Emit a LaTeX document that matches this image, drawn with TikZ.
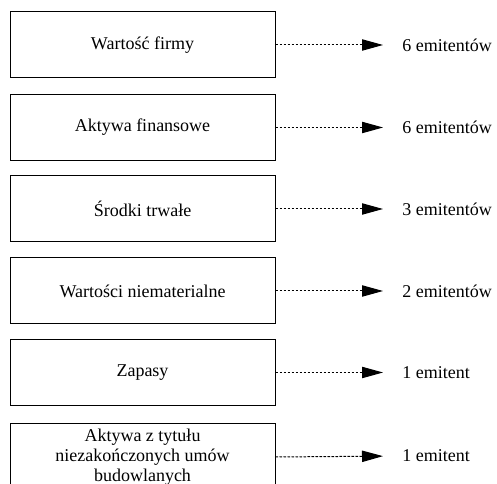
\documentclass[tikz,border=0pt]{standalone}
\usepackage{fontspec}
\setmainfont{Liberation Serif}
\usetikzlibrary{arrows.meta}

\tikzset{
  itembox/.style={draw, line width=0.75pt, minimum width=198.75pt, minimum height=49.5pt,
    align=center, font=\fontsize{13.5}{15}\selectfont},
  count/.style={anchor=west, inner sep=0pt, font=\fontsize{13.5}{16.5}\selectfont},
  link/.style={line width=0.75pt, dash pattern=on 1.9pt off 1.1pt,
    -{Triangle[length=15.75pt,width=8.5pt]}, shorten >=14.25pt}
}

\begin{document}
\begin{tikzpicture}[x=0.75pt,y=-0.75pt]
    \useasboundingbox (0,0) rectangle (497,484);
    %boxes
    \node[itembox] (firma) at (142.5,45) {Wartość firmy};
    \node[itembox] (finanse) at (142.5,127.5) {Aktywa finansowe};
    \node[itembox] (trwale) at (142.5,209) {Środki trwałe};
    \node[itembox] (niemat) at (142.5,291) {Wartości niematerialne};
    \node[itembox] (zapasy) at (142.5,372.5) {Zapasy};
    \node[itembox] (budowa) at (142.5,457) {Aktywa z tytułu\\niezakończonych umów\\budowlanych};
    %counts
    \node[count] (n1) at (402,45) {6 emitentów};
    \node[count] (n2) at (402,127.5) {6 emitentów};
    \node[count] (n3) at (402,209) {3 emitentów};
    \node[count] (n4) at (402,291) {2 emitentów};
    \node[count] (n5) at (402,372.5) {1 emitent};
    \node[count] (n6) at (402,456) {1 emitent};
    %arrows
    \draw[link] (firma.east) -- (n1.west);
    \draw[link] (finanse.east) -- (n2.west);
    \draw[link] (trwale.east) -- (n3.west);
    \draw[link] (niemat.east) -- (n4.west);
    \draw[link] (zapasy.east) -- (n5.west);
    \draw[link] (budowa.east) -- (n6.west);
\end{tikzpicture}
\end{document}
